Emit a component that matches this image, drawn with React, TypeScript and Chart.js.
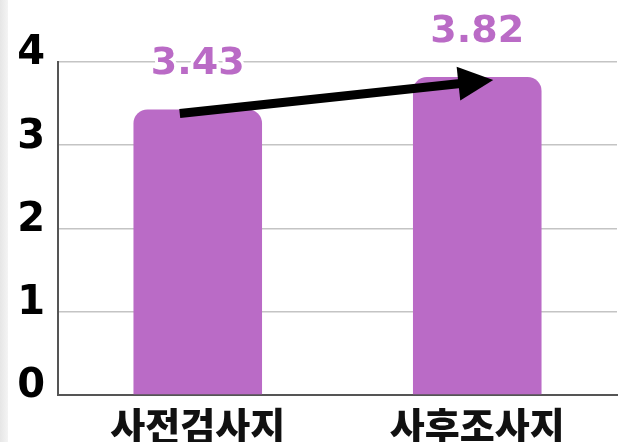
import React, { useEffect, useRef } from "react";
import { Chart, registerables } from "chart.js";

Chart.register(...registerables);

const categories = ["사전검사지", "사후조사지"];
const scores = [3.43, 3.82];
const yTicks = [0, 1, 2, 3, 4];

const PURPLE = "#BA6BC6";

const labelPlugin = {
  id: "valueLabels",
  afterDatasetsDraw(chart: any) {
    const ctx = chart.ctx;
    const meta = chart.getDatasetMeta(0);
    ctx.save();
    ctx.font = "bold 38px 'DejaVu Sans'";
    ctx.textAlign = "center";
    ctx.textBaseline = "middle";
    meta.data.forEach((bar: any, i: number) => {
      const txt = scores[i].toFixed(2);
      const y = bar.y - 45;
      ctx.lineJoin = "round";
      ctx.lineWidth = 6;
      ctx.strokeStyle = "#ffffff";
      ctx.strokeText(txt, bar.x, y);
      ctx.fillStyle = PURPLE;
      ctx.fillText(txt, bar.x, y);
    });
    ctx.restore();
  },
};

const arrowPlugin = {
  id: "trendArrow",
  afterDatasetsDraw(chart: any) {
    const ctx = chart.ctx;
    const xs = chart.scales.x;
    const ys = chart.scales.y;
    const x1 = xs.getPixelForValue(0) - 18;
    const y1 = ys.getPixelForValue(scores[0]) + 4;
    const x2 = xs.getPixelForValue(1) + 16;
    const y2 = ys.getPixelForValue(scores[1]) + 3;
    const ang = Math.atan2(y2 - y1, x2 - x1);
    const headLen = 35;
    const headHalf = 17;
    const bx = x2 - headLen * Math.cos(ang);
    const by = y2 - headLen * Math.sin(ang);
    ctx.save();
    ctx.strokeStyle = "#000";
    ctx.fillStyle = "#000";
    ctx.lineWidth = 9;
    ctx.beginPath();
    ctx.moveTo(x1, y1);
    ctx.lineTo(bx + 2 * Math.cos(ang), by + 2 * Math.sin(ang));
    ctx.stroke();
    ctx.beginPath();
    ctx.moveTo(x2, y2);
    ctx.lineTo(bx - headHalf * Math.sin(ang), by + headHalf * Math.cos(ang));
    ctx.lineTo(bx + headHalf * Math.sin(ang), by - headHalf * Math.cos(ang));
    ctx.closePath();
    ctx.fill();
    ctx.restore();
  },
};

export default function App() {
  const ref = useRef<HTMLCanvasElement>(null);
  useEffect(() => {
    if (!ref.current) return;
    const chart = new Chart(ref.current, {
      type: "bar",
      data: {
        labels: categories,
        datasets: [
          {
            data: scores,
            backgroundColor: PURPLE,
            borderRadius: { topLeft: 14, topRight: 14, bottomLeft: 0, bottomRight: 0 },
            borderSkipped: false,
            barPercentage: 0.46,
            categoryPercentage: 1,
          },
        ],
      },
      options: {
        animation: false,
        responsive: false,
        maintainAspectRatio: false,
        layout: { padding: { top: 62, right: 6, left: 0, bottom: 0 } },
        plugins: { legend: { display: false }, tooltip: { enabled: false } },
        scales: {
          x: {
            grid: { display: false, drawTicks: false },
            border: { display: true, color: "#555", width: 2 },
            ticks: {
              color: "#111",
              padding: 8,
              font: { family: "'Noto Sans CJK KR'", weight: "900", size: 38 },
            },
            afterFit(s: any) {
              s.height = 47;
            },
          },
          y: {
            min: 0,
            max: 4,
            afterBuildTicks(s: any) {
              s.ticks = yTicks.map((v) => ({ value: v }));
            },
            grid: { color: "#c4c4c4", lineWidth: 1.6, drawTicks: false },
            border: { display: true, color: "#555", width: 2 },
            ticks: {
              color: "#000",
              padding: 13,
              labelOffset: -8,
              font: { family: "'DejaVu Sans'", weight: "bold", size: 40 },
            },
            afterFit(s: any) {
              s.width = 58;
            },
          },
        },
      },
      plugins: [labelPlugin, arrowPlugin],
    });
    return () => chart.destroy();
  }, []);
  return (
    <div style={{ position: "fixed", left: 0, top: 0, width: 623, height: 442, background: "#fff" }}>
      <div
        style={{
          position: "absolute",
          left: 0,
          top: 0,
          width: 8,
          height: 442,
          background: "linear-gradient(to right, #e6e6e6, #f4f4f4)",
        }}
      />
      <canvas ref={ref} width={623} height={442} style={{ position: "absolute", left: 0, top: 0 }} />
    </div>
  );
}
